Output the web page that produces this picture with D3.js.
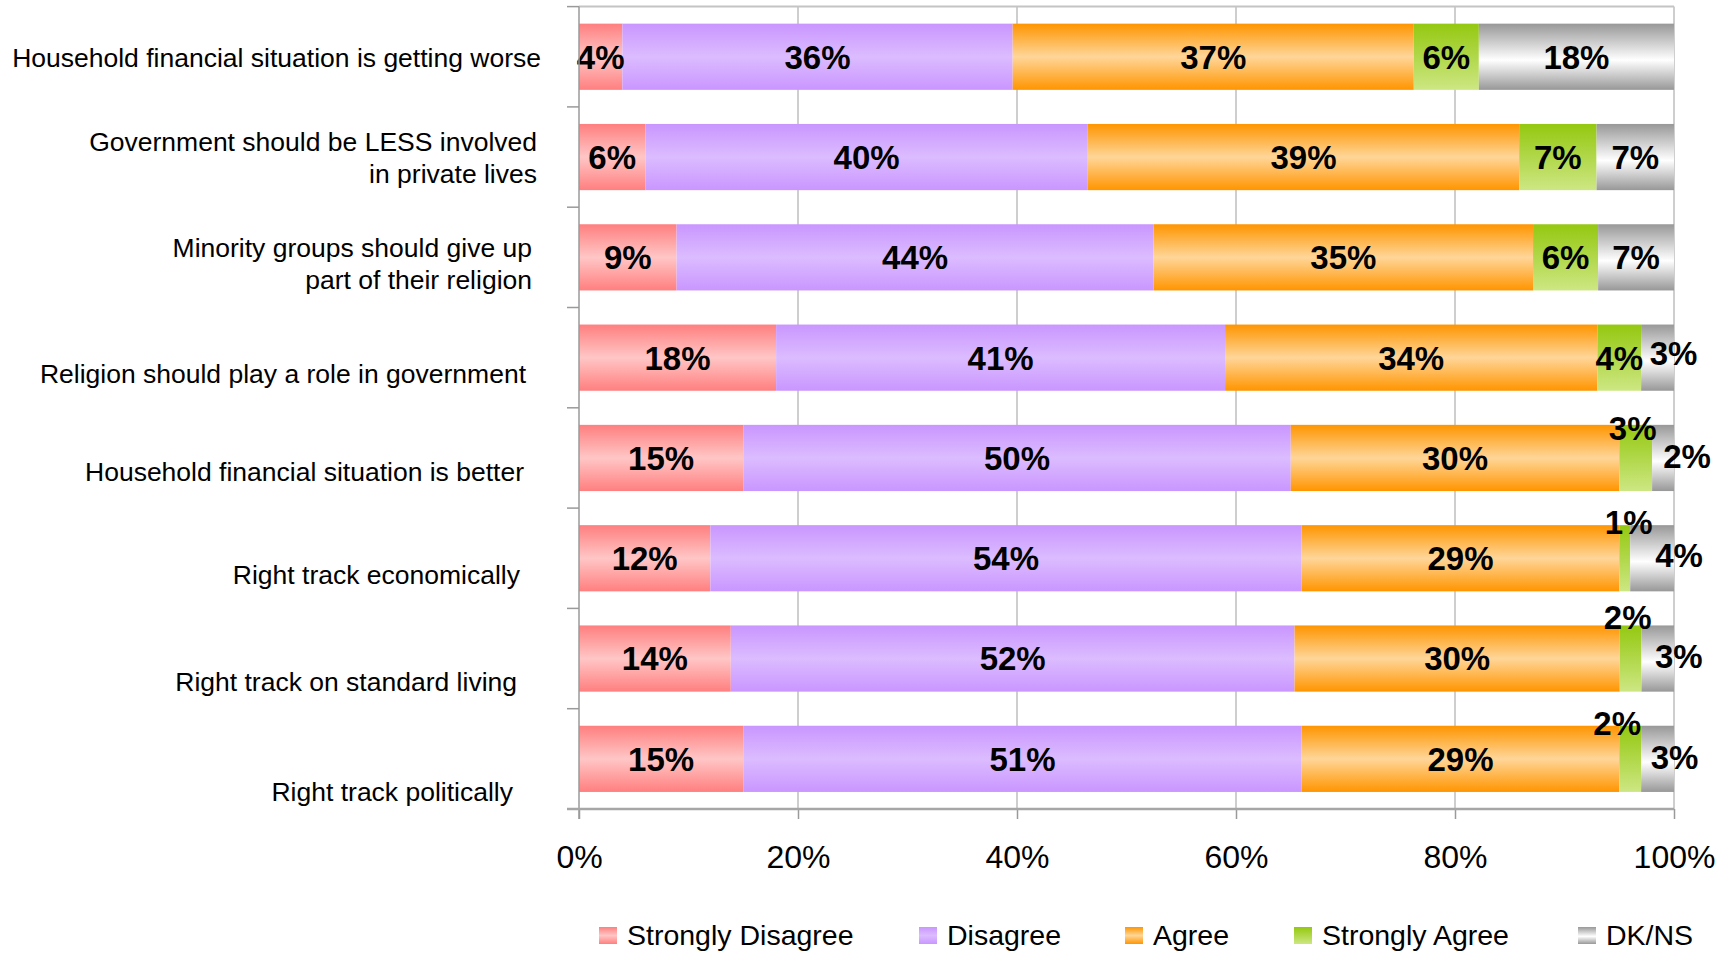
<!DOCTYPE html>
<html>
<head>
<meta charset="utf-8">
<script src="https://cdn.jsdelivr.net/npm/d3@7"></script>
<style>
  body { margin: 0; background: #fff; }
  text { font-family: "Liberation Sans", Arial, sans-serif; fill: #000; }
</style>
</head>
<body>
<script>
// survey answers, one array per answer, rows top to bottom
const categories = [
  "Household financial situation is getting worse",
  "Government should be LESS involved\nin private lives",
  "Minority groups should give up\npart of their religion",
  "Religion should play a role in government",
  "Household financial situation is better",
  "Right track economically",
  "Right track on standard living",
  "Right track politically"
];
const seriesNames = ["Strongly Disagree", "Disagree", "Agree", "Strongly Agree", "DK/NS"];
const stronglyDisagree = [4, 6, 9, 18, 15, 12, 14, 15];
const disagree         = [36, 40, 44, 41, 50, 54, 52, 51];
const agree            = [37, 39, 35, 34, 30, 29, 30, 29];
const stronglyAgree    = [6, 7, 6, 4, 3, 1, 2, 2];
const dkns             = [18, 7, 7, 3, 2, 4, 3, 3];
const xTickValues = [0, 0.2, 0.4, 0.6, 0.8, 1];

// layout only: category labels drift a bit in the original
const catNudge = [[0, 1], [-4, 0], [-9, 6], [-15, 16], [-17, 14], [-21, 16], [-24, 23], [-28, 33]];
// small value labels that were dragged off their segment
const valueNudge = {
  "3-4": [16, -5],
  "4-3": [-3, -30], "4-4": [24, -2],
  "5-3": [4, -36], "5-4": [27, -3],
  "6-3": [-3, -41], "6-4": [21, -2],
  "7-3": [-13, -36], "7-4": [17, -2]
};

const gradients = [
  [["0", "#ff7f7f"], ["0.5", "#ffc6c6"], ["1", "#ff7f7f"]],
  [["0", "#c996ff"], ["0.5", "#dcbcff"], ["1", "#c996ff"]],
  [["0", "#ff9500"], ["0.5", "#ffd699"], ["1", "#ff9500"]],
  [["0", "#94c810"], ["1", "#cde783"]],
  [["0", "#989898"], ["0.55", "#ffffff"], ["1", "#989898"]]
];

const W = 1730, H = 953;
const margin = {top: 6.6, left: 579, right: 56, bottom: 144};
const innerW = W - margin.left - margin.right;
const innerH = H - margin.top - margin.bottom;

const svg = d3.select("body").append("svg")
  .attr("width", W).attr("height", H);

const defs = svg.append("defs");
gradients.forEach((stops, i) => {
  const g = defs.append("linearGradient").attr("id", "grad" + i)
    .attr("x1", 0).attr("y1", 0).attr("x2", 0).attr("y2", 1);
  stops.forEach(s => g.append("stop").attr("offset", s[0]).attr("stop-color", s[1]));
});

const rows = categories.map((c, i) => ({
  cat: c,
  s0: stronglyDisagree[i], s1: disagree[i], s2: agree[i], s3: stronglyAgree[i], s4: dkns[i]
}));
const keys = ["s0", "s1", "s2", "s3", "s4"];
const stacked = d3.stack().keys(keys).offset(d3.stackOffsetExpand)(rows);

const x = d3.scaleLinear().domain([0, 1]).range([0, innerW]);
const y = d3.scaleBand().domain(categories).range([0, innerH])
  .paddingInner(0.34).paddingOuter(0.17);
const step = y.step();

const g = svg.append("g").attr("transform", `translate(${margin.left},${margin.top})`);

// gridlines
g.append("g").selectAll("line").data(xTickValues.slice(1)).join("line")
  .attr("x1", d => x(d)).attr("x2", d => x(d))
  .attr("y1", 0).attr("y2", innerH)
  .attr("stroke", "#b4b4b4").attr("stroke-width", 1.3);
// top frame
g.append("line").attr("x1", 0).attr("x2", innerW).attr("y1", 0).attr("y2", 0)
  .attr("stroke", "#c4c4c4").attr("stroke-width", 2);

// bars
stacked.forEach((layer, si) => {
  g.append("g").selectAll("rect").data(layer).join("rect")
    .attr("x", d => x(d[0]))
    .attr("y", d => y(d.data.cat))
    .attr("width", d => x(d[1]) - x(d[0]))
    .attr("height", y.bandwidth())
    .attr("fill", `url(#grad${si})`);
});

// value labels
stacked.forEach((layer, si) => {
  g.append("g").selectAll("text").data(layer).join("text")
    .attr("x", (d, i) => (x(d[0]) + x(d[1])) / 2 + (valueNudge[i + "-" + si] || [0, 0])[0])
    .attr("y", (d, i) => y(d.data.cat) + y.bandwidth() / 2 + (valueNudge[i + "-" + si] || [0, 0])[1])
    .attr("dy", "0.36em")
    .attr("text-anchor", "middle")
    .style("font-size", "33px").style("font-weight", "bold")
    .text(d => d.data["s" + si] + "%");
});

// y axis line and ticks at band edges
g.append("line").attr("x1", 0).attr("x2", 0).attr("y1", 0).attr("y2", innerH + 10)
  .attr("stroke", "#9a9a9a").attr("stroke-width", 1.5);
g.append("g").selectAll("line").data(d3.range(categories.length)).join("line")
  .attr("x1", -12).attr("x2", 0)
  .attr("y1", d => d * step).attr("y2", d => d * step)
  .attr("stroke", "#9a9a9a").attr("stroke-width", 1.5);

// x axis
const xAxis = g.append("g").attr("transform", `translate(0,${innerH})`)
  .call(d3.axisBottom(x).tickValues(xTickValues).tickFormat(d3.format(".0%"))
    .tickSize(10).tickPadding(26));
xAxis.select(".domain").remove();
xAxis.selectAll("line").attr("stroke", "#9a9a9a").attr("stroke-width", 1.5);
xAxis.selectAll("text").style("font-size", "32px")
  .style("font-family", "'Liberation Sans', Arial, sans-serif").attr("fill", "#000");
g.append("line").attr("x1", -12).attr("x2", innerW).attr("y1", innerH).attr("y2", innerH)
  .attr("stroke", "#a6a6a6").attr("stroke-width", 2.5);

// category labels
const cat = g.append("g").selectAll("text").data(categories).join("text")
  .attr("text-anchor", "end")
  .style("font-size", "26.5px")
  .attr("transform", (d, i) => `translate(${-38 + catNudge[i][0]},${y(d) + y.bandwidth() / 2 + catNudge[i][1]})`);
cat.each(function (d) {
  const lines = d.split("\n");
  const t = d3.select(this);
  lines.forEach((l, k) => {
    t.append("tspan").attr("x", 0)
      .attr("y", (k - (lines.length - 1) / 2) * 32)
      .attr("dy", "0.36em")
      .text(l);
  });
});

// legend
const legendX = [599, 919, 1125, 1294, 1578];
const legend = svg.append("g").selectAll("g").data(seriesNames).join("g")
  .attr("transform", (d, i) => `translate(${legendX[i]},927)`);
legend.append("rect").attr("width", 18).attr("height", 17)
  .attr("fill", (d, i) => `url(#grad${i})`);
legend.append("text").attr("x", 28).attr("y", 18)
  .style("font-size", "28.5px")
  .text(d => d);
</script>
</body>
</html>
